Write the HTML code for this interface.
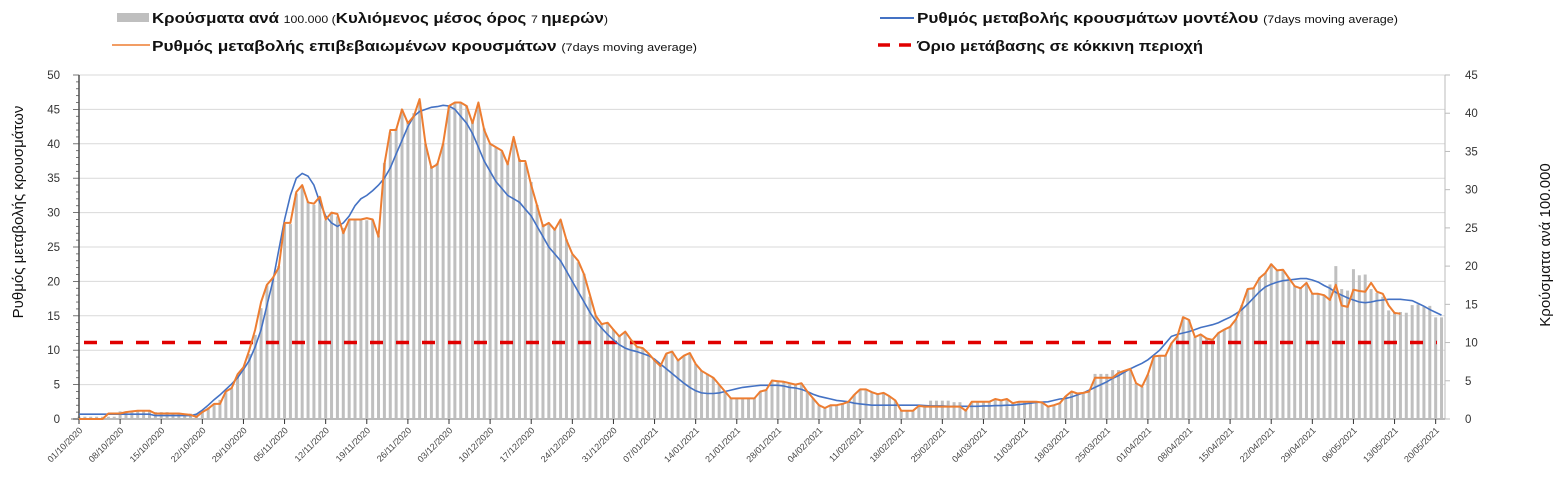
<!DOCTYPE html>
<html><head><meta charset="utf-8">
<style>
html,body{margin:0;padding:0;background:#fff;}
svg{display:block;font-family:"Liberation Sans","DejaVu Sans",sans-serif;}
</style></head>
<body>
<svg id="chart" width="1568" height="498" viewBox="0 0 1568 498" xmlns="http://www.w3.org/2000/svg">
<g>
  <rect x="117" y="13" width="32" height="9" fill="#bfbfbf"/>
  <text x="152" y="23" font-size="15" fill="#111" font-weight="bold" textLength="456" lengthAdjust="spacingAndGlyphs">Κρούσματα ανά <tspan font-size="11" font-weight="normal">100.000 (</tspan>Κυλιόμενος μέσος όρος <tspan font-size="11" font-weight="normal">7 </tspan>ημερών<tspan font-size="11" font-weight="normal">)</tspan></text>
  <line x1="112" y1="45" x2="150" y2="45" stroke="#ed7d31" stroke-width="1.5"/>
  <text x="152" y="51" font-size="15" fill="#111" font-weight="bold" textLength="545" lengthAdjust="spacingAndGlyphs">Ρυθμός μεταβολής επιβεβαιωμένων κρουσμάτων <tspan font-size="11" font-weight="normal">(7days moving average)</tspan></text>
  <line x1="880" y1="18" x2="914" y2="18" stroke="#4472c4" stroke-width="2"/>
  <text x="917" y="23" font-size="15" fill="#111" font-weight="bold" textLength="481" lengthAdjust="spacingAndGlyphs">Ρυθμός μεταβολής κρουσμάτων μοντέλου <tspan font-size="11" font-weight="normal">(7days moving average)</tspan></text>
  <line x1="878" y1="45" x2="916" y2="45" stroke="#e00000" stroke-width="3.5" stroke-dasharray="12,9"/>
  <text x="917" y="51" font-size="15" fill="#111" font-weight="bold" textLength="286" lengthAdjust="spacingAndGlyphs">Όριο μετάβασης σε κόκκινη περιοχή</text>
</g>
<text transform="translate(23,212) rotate(-90)" text-anchor="middle" font-size="15" fill="#111">Ρυθμός μεταβολής κρουσμάτων</text>
<text transform="translate(1550,245) rotate(-90)" text-anchor="middle" font-size="15" fill="#111">Κρούσματα ανά 100.000</text>
<g id="plot"></g>
</svg>
<script>
const orangeValues=[0,0,0,0,0,0.8,0.8,0.8,1.0,1.1,
1.2,1.2,1.2,0.8,0.8,0.8,0.8,0.8,0.7,0.6,
0.3,1.0,1.5,2.2,2.2,4.0,4.5,6.5,7.5,10,
13,17,19.5,20.5,22,28.5,28.5,33,34,31.5,
31.3,32.3,29,30,29.8,27,29,29,29,29.2,
29,26.5,37,42,42,45,43,44,46.5,40,
36.5,37,40,45.5,46,46,45.5,43,46,42,
40,39.5,39,37,41,37.5,37.5,34,31,28,
28.5,27.5,29,26,24,23,21,18,15,13.8,
14,13,12,12.7,11.5,10.5,10.3,9.5,8.5,7.7,
9.5,9.8,8.5,9.2,9.6,8,7,6.5,6,5,
4,3,3,3,3,3,4,4.2,5.6,5.5,
5.4,5.2,5.0,5.2,4,3,2,1.6,2.0,2.0,
2.2,2.5,3.5,4.3,4.3,3.9,3.6,3.8,3.3,2.7,
1.2,1.2,1.2,1.9,1.8,1.8,1.8,1.8,1.8,1.8,
1.8,1.2,2.5,2.5,2.5,2.5,2.9,2.7,2.9,2.3,
2.5,2.5,2.5,2.5,2.4,1.8,2.0,2.3,3.3,4.0,
3.7,3.8,4.0,6.0,6,6,6,6.7,7.0,7.3,
5.2,4.7,6.5,9.1,9.2,9.2,11,12,14.8,14.4,
11.9,12.3,11.7,11.5,12.5,13,13.4,14.5,16.5,18.9,
19,20.5,21.2,22.5,21.6,21.7,20.5,19.3,19,19.8,
18.2,18.2,18,17.3,19.5,16.5,16.3,18.8,18.6,18.5,
19.8,18.5,18.2,16.5,15.4,15.3];
const blueValues=[0.7,0.7,0.7,0.7,0.7,0.7,0.7,0.7,0.7,0.7,0.7,0.7,0.7,
0.5,0.5,0.5,0.5,0.5,0.5,0.5,
0.7,1.3,2.0,2.8,3.5,4.3,5.1,6,7.2,8.5,
10.5,13,16.5,20,24.5,29,32.5,35,35.7,35.3,
34,31.5,29.5,28.5,28,28.5,29.5,31,32,32.5,
33.2,34,35,36.5,38.5,40.5,42.5,44,44.7,45,
45.3,45.4,45.6,45.5,45,44,43,41.5,39.5,37.5,
36,34.5,33.5,32.5,32,31.5,30.5,29.5,28,26.5,
25,24,23,21.5,20,18.5,17,15.5,14.2,13.2,
12.3,11.5,10.8,10.3,10,9.8,9.5,9.2,8.7,8,
7.3,6.6,5.9,5.2,4.6,4.1,3.8,3.7,3.7,3.8,
4.0,4.2,4.4,4.6,4.7,4.8,4.9,4.9,4.9,4.9,
4.8,4.6,4.5,4.3,4.0,3.6,3.3,3.1,2.9,2.7,
2.6,2.5,2.3,2.2,2.1,2.0,2.0,2.0,2.0,2.0,2.0,2.0,2.0,
2.0,1.95,1.9,1.9,1.9,1.85,1.85,1.85,1.85,1.85,1.85,
1.9,1.9,1.95,1.95,2.0,2.0,2.1,2.2,2.3,2.4,2.45,2.5,2.7,2.9,3.0,3.2,3.5,3.8,4.2,4.6,
5.0,5.4,5.9,6.3,6.8,7.3,7.7,8.1,8.6,9.3,10.0,11.0,12.0,12.3,12.5,12.7,13.0,13.3,13.5,13.7,
14.0,14.4,14.8,15.3,15.9,16.7,17.6,18.5,19.2,19.6,19.9,20.1,20.2,20.3,20.4,20.4,20.2,19.9,19.4,19.0,
18.4,18.0,17.6,17.3,17.0,16.9,17.0,17.2,17.3,17.4,17.4,17.4,17.3,17.2,16.8,16.4,15.9,15.5,15.1];
const barValues=[0.3,0.3,0.3,0.3,0.3,0.3,0.3,1.0,1.0,1.0,
1.0,1.0,1.0,0.9,0.9,0.9,0.8,0.8,0.7,0.7,
0.6,1.0,1.5,2.0,2.5,3.5,4.0,5.5,6.5,8.5,
11,14.5,17.5,18.5,20,25.5,25.5,29.5,30.5,28.5,
28,29,26,27,26.5,25,26,26,26,26,
26,24,33.5,37.5,38,40.5,39,40,41.5,36,
33,33.5,36,41,41.3,41.3,41,39,41,38,
36,35.5,35,33.5,36.5,34,33.5,31,28,25.5,
25.5,25,26,23.5,21.5,20.5,19,16,13.5,12.5,
12.5,11.7,11,11.3,10.3,9.5,9.2,8.5,7.7,7,
8.5,8.8,7.7,8.3,8.6,7.2,6.3,5.9,5.4,4.5,
3.6,2.7,2.7,2.7,2.7,2.7,3.6,3.8,5,5,
4.9,4.7,4.5,4.7,3.6,2.7,1.8,1.5,1.8,1.8,
2,2.2,3.2,3.9,3.9,3.5,3.2,3.4,3,2.4,
1.1,1.1,1.1,1.7,1.6,2.4,2.4,2.4,2.4,2.2,
2.2,1.1,2.2,2.2,2.2,2.2,2.6,2.4,2.6,2.1,
2.2,2.2,2.2,2.2,2.2,1.6,1.8,2.1,3,3.6,
3.4,3.4,3.6,5.9,5.9,5.9,6.4,6.4,6.4,6.5,
4.7,4.2,5.8,8.2,8.3,8.3,9.9,10.8,13.3,13,
10.7,11.1,10.5,10.4,11.3,11.7,12.1,13,14.9,17,
17.1,18.5,19.1,20.3,19.4,19.5,18.5,17.4,17.1,17.8,
16.4,16.4,16.2,17.6,20,17,16.8,19.6,18.8,18.9,
17,16.5,16,14.2,14,14,13.9,14.9,15,14.7,
14.8,13.3,13.3];
const xTickLabels=["01/10/2020","08/10/2020","15/10/2020","22/10/2020","29/10/2020","05/11/2020","12/11/2020","19/11/2020","26/11/2020","03/12/2020","10/12/2020","17/12/2020","24/12/2020","31/12/2020","07/01/2021","14/01/2021","21/01/2021","28/01/2021","04/02/2021","11/02/2021","18/02/2021","25/02/2021","04/03/2021","11/03/2021","18/03/2021","25/03/2021","01/04/2021","08/04/2021","15/04/2021","22/04/2021","29/04/2021","06/05/2021","13/05/2021","20/05/2021"];
const leftTicks=[0,5,10,15,20,25,30,35,40,45,50];
const rightTicks=[0,5,10,15,20,25,30,35,40,45];
const thresholdValue=10;

const NS="http://www.w3.org/2000/svg";
const X0=79, DAY=5.873, XR=1445, Y0=419, YT=75;
const xS=d=>X0+d*DAY;
const yL=v=>Y0-(v/50)*(Y0-YT);
const yR=v=>Y0-(v/45)*(Y0-YT);
const plot=document.getElementById('plot');
function mk(tag,attrs,parent){const e=document.createElementNS(NS,tag);for(const k in attrs)e.setAttribute(k,attrs[k]);(parent||plot).appendChild(e);return e;}

leftTicks.forEach(v=>{if(v===0)return;
  const g=mk('line',{x1:X0,x2:XR,y1:yL(v),y2:yL(v),stroke:'#d9d9d9','stroke-width':1});
  
  
});
barValues.forEach((v,i)=>{
  const b=mk('rect',{x:xS(i)-1.5,y:yR(v),width:3,height:Y0-yR(v),fill:'#bfbfbf'});
  
  
});
const la=mk('line',{x1:X0,x2:X0,y1:YT,y2:Y0,stroke:'#222','stroke-width':1.2});


const ra=mk('line',{x1:XR,x2:XR,y1:YT,y2:Y0,stroke:'#bbb','stroke-width':1});


const xa=mk('line',{x1:X0-8,x2:XR,y1:Y0,y2:Y0,stroke:'#bbb','stroke-width':2});


for(let v=0;v<=50;v++){
  const t=mk('line',{x1:X0-(v%5===0?6:3),x2:X0,y1:yL(v),y2:yL(v),stroke:'#555','stroke-width':0.8});
  
  
}
leftTicks.forEach(v=>{
  const t=mk('text',{x:60,y:yL(v)+4,'text-anchor':'end','font-size':11.5,fill:'#333'});
  t.textContent=v;
  
  
});
rightTicks.forEach(v=>{
  const tk=mk('line',{x1:XR,x2:XR+5,y1:yR(v),y2:yR(v),stroke:'#bbb','stroke-width':1});
  
  
  const t=mk('text',{x:1465,y:yR(v)+4,'font-size':11.5,fill:'#333'});
  t.textContent=v;
  
  
});
xTickLabels.forEach((s,i)=>{
  const x=xS(i*7);
  const tk=mk('line',{x1:x,x2:x,y1:Y0,y2:Y0+5,stroke:'#333','stroke-width':1});
  
  
  const t=mk('text',{transform:`translate(${x+4},${Y0+12}) rotate(-45)`,'text-anchor':'end','font-size':9,fill:'#444'});
  t.textContent=s;
  
  
});
const th=mk('line',{x1:X0+5,x2:XR-8,y1:yR(thresholdValue),y2:yR(thresholdValue),stroke:'#e00000','stroke-width':3.5,'stroke-dasharray':'13,13'});


const pb=mk('polyline',{points:blueValues.map((v,i)=>xS(i).toFixed(1)+','+yL(v).toFixed(1)).join(' '),fill:'none',stroke:'#4472c4','stroke-width':1.6});


const po=mk('polyline',{points:orangeValues.map((v,i)=>xS(i).toFixed(1)+','+yL(v).toFixed(1)).join(' '),fill:'none',stroke:'#ed7d31','stroke-width':2,'stroke-linejoin':'round'});


</script>
</body></html>
